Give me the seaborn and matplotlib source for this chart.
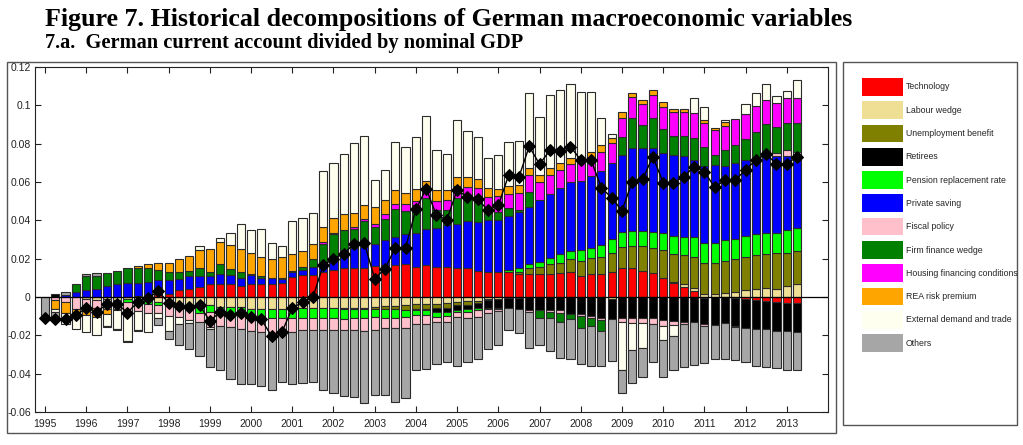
import numpy as np
import matplotlib
matplotlib.use("Agg")
import matplotlib.pyplot as plt
import seaborn as sns
from matplotlib.patches import Rectangle, Patch

# ---------------- data (1995Q1 .. 2013Q2) ----------------
years = [str(y) for y in range(1995, 2014)]

tech = [0, 0, 0, 0, 0, 0, 0, 0, 0, 0.0005, 0, 0.0017, 0.0017, 0.0035, 0.0043, 0.0052,
        0.0066, 0.0066, 0.0066, 0.0056, 0.0066, 0.0066, 0.0066, 0.0073, 0.0104, 0.0115,
        0.0115, 0.0132, 0.0141, 0.015, 0.015, 0.015, 0.016, 0.0165, 0.0165, 0.017, 0.0157,
        0.0165, 0.0158, 0.0158, 0.015, 0.0153, 0.0137, 0.0132, 0.0129, 0.0129, 0.0118,
        0.012, 0.012, 0.012, 0.0123, 0.0129, 0.0111, 0.0118, 0.0118, 0.0129, 0.0153, 0.015,
        0.0136, 0.0123, 0.0097, 0.0071, 0.0054, 0.0033, -0.0005, 0, 0, -0.0007, -0.0012,
        -0.0016, -0.0019, -0.0024, -0.003, -0.003]
labour = [0, 0, 0, 0, -0.0013, -0.0014, -0.001, -0.0015, -0.0012, -0.0015, -0.0015, -0.0026,
          -0.003, -0.005, -0.005, -0.0043, -0.0043, -0.0052, -0.0052, -0.0052, -0.006, -0.006,
          -0.006, -0.006, -0.0052, -0.0059, -0.0059, -0.0059, -0.0059, -0.0055, -0.0055,
          -0.0055, -0.005, -0.0048, -0.0048, -0.0043, -0.0038, -0.0035, -0.0038, -0.0033,
          -0.0024, -0.0021, -0.0019, -0.0012, -0.001, -0.0007, -0.0007, 0, 0, 0, 0, 0, 0, 0,
          0, -0.001, 0, 0, 0, 0, 0, 0.0009, 0.0012, 0.0012, 0.0017, 0.0017, 0.0021, 0.0026,
          0.0035, 0.004, 0.0045, 0.004, 0.0057, 0.0066]
unemp = [0] * 29 + [-0.0009, -0.0009, -0.0009, -0.001, -0.0017, -0.0017, -0.0023, -0.0023,
         -0.0026, -0.0021, -0.0023, -0.0017, -0.0021, -0.0014, -0.0005, 0, 0, 0.0014, 0.003,
         0.0038, 0.005, 0.0052, 0.0068, 0.0077, 0.0083, 0.0092, 0.0099, 0.011, 0.0118, 0.0132,
         0.0134, 0.0148, 0.0144, 0.0153, 0.0165, 0.0163, 0.0163, 0.0165, 0.017, 0.0174,
         0.0179, 0.0177, 0.0191, 0.0174, 0.0174]
retirees = [0, 0.0015] + [0] * 34 + [-0.0008, -0.0009, -0.0021, -0.0021, -0.0026, -0.0021,
            -0.0026, -0.004, -0.0045, -0.0052, -0.0056, -0.0068, -0.0068, -0.0068, -0.0068,
            -0.0089, -0.009, -0.0097, -0.0108, -0.0104, -0.0108, -0.0111, -0.0111, -0.0111,
            -0.012, -0.0125, -0.0129, -0.0129, -0.0137, -0.0146, -0.0134, -0.0144, -0.0151,
            -0.0153, -0.015, -0.0151, -0.0146, -0.0151]
pension = [0] * 8 + [-0.0012, -0.0015, -0.002, -0.0017, -0.0015, -0.001, -0.002, -0.004,
           -0.0035, -0.0026, -0.0035, -0.0026, -0.0035, -0.0052, -0.0052, -0.0052, -0.006,
           -0.0052, -0.0052, -0.0052, -0.0052, -0.005, -0.0047, -0.0047, -0.0045, -0.0043,
           -0.0042, -0.0038, -0.0025, -0.0022, -0.0023, -0.002, -0.0012, -0.0017, -0.0008,
           -0.0005, -0.0005, 0.0012, 0.0021, 0.0023, 0.0023, 0.0031, 0.0047, 0.0043, 0.0057,
           0.0056, 0.0061, 0.0075, 0.0078, 0.0077, 0.0077, 0.0083, 0.0087, 0.0096, 0.0092,
           0.0104, 0.0101, 0.0101, 0.011, 0.0108, 0.011, 0.0111, 0.0113, 0.0104, 0.0117, 0.0122]
private = [0, 0, 0.001, 0.0025, 0.0035, 0.0043, 0.006, 0.0068, 0.0073, 0.007, 0.0078, 0.0073,
           0.007, 0.006, 0.0064, 0.0056, 0.0042, 0.0056, 0.0047, 0.0045, 0.0047, 0.0035,
           0.0035, 0.0023, 0.0026, 0.0026, 0.0043, 0.0043, 0.0052, 0.0096, 0.0104, 0.0113,
           0.0118, 0.0134, 0.0148, 0.016, 0.0177, 0.0191, 0.02, 0.0217, 0.023, 0.0243, 0.0256,
           0.027, 0.0273, 0.0283, 0.0289, 0.0299, 0.0325, 0.0339, 0.0348, 0.0362, 0.036,
           0.0376, 0.0386, 0.0395, 0.04, 0.0435, 0.0435, 0.0435, 0.0417, 0.0421, 0.0426, 0.04,
           0.04, 0.0409, 0.039, 0.0397, 0.0395, 0.04, 0.04, 0.04, 0.0388, 0.0374]
fiscal = [0, -0.0015, -0.0025, -0.006, -0.0038, -0.0042, -0.005, -0.0045, -0.006, -0.0045,
          -0.005, -0.0043, -0.0055, -0.0045, -0.005, -0.0047, -0.0078, -0.0072, -0.007,
          -0.0087, -0.0082, -0.007, -0.0083, -0.0061, -0.007, -0.0061, -0.0061, -0.0061,
          -0.0061, -0.0058, -0.006, -0.0068, -0.0065, -0.0056, -0.0057, -0.0056, -0.0047,
          -0.0047, -0.003, -0.0031, -0.0026, -0.0031, -0.0035, -0.002, -0.0015, 0, 0, -0.0012,
          0, -0.0012, -0.0017, 0, -0.0007, -0.0014, -0.0012, 0, -0.0024, -0.0026, -0.0026,
          -0.0031, -0.003, -0.0021, -0.0014, 0, -0.0009, 0, 0, 0, 0, 0, 0, 0.0017, 0.003, 0.0023]
firm = [0, 0, 0, 0.0045, 0.0072, 0.0065, 0.0064, 0.0066, 0.0078, 0.0075, 0.0075, 0.0049,
        0.0043, 0.0038, 0.0031, 0.0045, 0.0023, 0.0049, 0.0035, 0.003, 0.0009, 0.0008, 0,
        0.0005, 0.0005, 0.0014, 0.0038, 0.0101, 0.0134, 0.0104, 0.0099, 0.0136, 0.0087,
        0.0106, 0.0144, 0.0118, 0.0148, 0.0162, 0.0096, 0.0078, 0.0136, 0.0136, 0.0136,
        0.0052, 0.0043, 0.0038, 0.0012, 0.0075, -0.004, -0.0031, -0.0047, -0.0026, -0.0066,
        -0.0038, -0.0057, 0, 0.0096, 0.0153, 0.0115, 0.016, 0.013, 0.0101, 0.0104, 0.0113,
        0.0101, 0.0052, 0.0083, 0.0094, 0.011, 0.0132, 0.0169, 0.0134, 0.0144, 0.0151]
housing = [0] * 27 + [0.0012, 0.0005, 0, 0.0014, 0.001, 0.0017, 0.0026, 0.0026, 0.0035, 0.002,
           0.0052, 0.0047, 0.0052, 0.0061, 0.0043, 0.0042, 0.0066, 0.0083, 0.0078, 0.0087,
           0.009, 0.0096, 0.0096, 0.0092, 0.009, 0.0097, 0.0099, 0.0101, 0.0104, 0.0099,
           0.0113, 0.0111, 0.0118, 0.011, 0.0125, 0.0125, 0.0134, 0.0125, 0.0127, 0.0125,
           0.0132, 0.013, 0.0134, 0.0122, 0.0127, 0.013, 0.013]
rea = [0, -0.0045, -0.006, -0.0045, -0.0043, -0.0048, -0.003, -0.001, 0, 0.0012, 0.0017,
       0.0038, 0.0047, 0.0067, 0.0078, 0.0094, 0.0117, 0.0116, 0.0122, 0.0122, 0.0108, 0.01,
       0.0099, 0.0108, 0.0091, 0.0087, 0.0083, 0.0078, 0.0078, 0.0083, 0.0073, 0.007, 0.0087,
       0.0077, 0.0073, 0.0059, 0.0061, 0.0035, 0.0057, 0.0052, 0.0049, 0.0049, 0.0045,
       0.0047, 0.0038, 0.004, 0.0043, 0.0035, 0.0035, 0.0035, 0.0035, 0.0031, 0, 0.0023,
       0.0035, 0.003, 0.0028, 0.0017, 0.0023, 0.0026, 0.0026, 0.0014, 0.0014, 0, 0.0017,
       0.0012, 0.0017, 0, 0, 0, 0, 0, 0, 0]
external = [0, -0.002, -0.0057, -0.006, -0.0087, -0.0096, -0.006, -0.0095, -0.0145, -0.0095,
            -0.0095, -0.0026, -0.0075, -0.0035, -0.0015, 0.0017, -0.0009, 0.0023, 0.0066,
            0.013, 0.0122, 0.0148, 0.0082, 0.0056, 0.017, 0.0169, 0.016, 0.029, 0.0287, 0.0311,
            0.0362, 0.036, 0.0139, 0.0157, 0.0252, 0.024, 0.0273, 0.0339, 0.0209, 0.0191,
            0.0299, 0.0242, 0.0217, 0.0157, 0.0174, 0.023, 0.023, 0.0391, 0.0304, 0.0383,
            0.0383, 0.0386, 0.0365, 0.0317, 0.0143, 0.0017, -0.0249, -0.0139, -0.013, 0,
            -0.0075, -0.0056, 0, 0.0075, 0.0066, 0, 0.001, -0.0005, 0.0052, 0.007, 0.0083,
            0.0035, 0.0035, 0.009]
others = [-0.0115, -0.004, 0.0015, 0, 0.0013, 0.0019, -0.0008, -0.0005, -0.0006, -0.0009, 0,
          -0.0035, -0.0042, -0.0112, -0.0135, -0.018, -0.02, -0.023, -0.0269, -0.0287,
          -0.0275, -0.028, -0.0288, -0.027, -0.027, -0.0278, -0.027, -0.0313, -0.0327,
          -0.0344, -0.0349, -0.0376, -0.034, -0.0345, -0.0384, -0.0365, -0.0239, -0.0235,
          -0.0214, -0.021, -0.0255, -0.0228, -0.0222, -0.0187, -0.0175, -0.0113, -0.0127,
          -0.0188, -0.0145, -0.017, -0.0184, -0.0209, -0.0188, -0.0209, -0.0181, -0.0219,
          -0.0119, -0.0174, -0.0148, -0.0195, -0.0191, -0.0179, -0.022, -0.0226, -0.0191,
          -0.0179, -0.0191, -0.0174, -0.0174, -0.0191, -0.0198, -0.0197, -0.0205, -0.02]
current_account = [-0.011, -0.0117, -0.0117, -0.0096, -0.0057, -0.0078, -0.0038, -0.0035,
                   -0.0082, -0.0026, -0.0005, 0.003, -0.0031, -0.0049, -0.0052, -0.0043,
                   -0.0125, -0.0078, -0.0096, -0.0082, -0.0104, -0.0117, -0.0205, -0.0183,
                   -0.0058, -0.0027, -0.0002, 0.0165, 0.02, 0.0226, 0.0278, 0.028, 0.0096,
                   0.0148, 0.0257, 0.0257, 0.0457, 0.0565, 0.0426, 0.0403, 0.0557, 0.0522,
                   0.0509, 0.0453, 0.0478, 0.0635, 0.0626, 0.0786, 0.0693, 0.0765, 0.0762,
                   0.0784, 0.0715, 0.0715, 0.057, 0.0518, 0.045, 0.0602, 0.0614, 0.0732,
                   0.0597, 0.0597, 0.0628, 0.068, 0.0654, 0.0572, 0.0611, 0.0611, 0.0663,
                   0.0715, 0.0745, 0.0694, 0.0694, 0.0732]

names = ["Technology", "Labour wedge", "Unemployment benefit", "Retirees",
         "Pension replacement rate", "Private saving", "Fiscal policy", "Firm finance wedge",
         "Housing financing conditions", "REA risk premium", "External demand and trade",
         "Others"]
colors = ["#FF0000", "#EEDF95", "#808000", "#000000", "#00FF00", "#0000FF", "#FFC0CB",
          "#008000", "#FF00FF", "#FFA500", "#FFFFF0", "#A6A6A6"]
series = [tech, labour, unemp, retirees, pension, private, fiscal, firm, housing, rea,
          external, others]

# ---------------- style ----------------
sns.set_theme(style="white")
plt.rcParams['font.family'] = ['Liberation Sans', 'DejaVu Sans']

W, H = 1023, 445
fig = plt.figure(figsize=(W / 100, H / 100), dpi=100)
fig.patch.set_facecolor("white")

ax_l, ax_r, ax_t, ax_b = 35, 828, 67, 412
ax = fig.add_axes([ax_l / W, 1 - ax_b / H, (ax_r - ax_l) / W, (ax_b - ax_t) / H])
ax.set_facecolor("white")

n = len(tech)
x = np.arange(n)
pos_base = np.zeros(n)
neg_base = np.zeros(n)
for vals, c in zip(series, colors):
    v = np.asarray(vals, dtype=float)
    p = np.where(v > 0, v, 0.0)
    m = np.where(v < 0, v, 0.0)
    mp = p > 0
    mn = m < 0
    ax.bar(x[mp], p[mp], width=0.8, bottom=pos_base[mp], color=c,
           edgecolor="#2b2b2b", linewidth=0.8, zorder=2)
    ax.bar(x[mn], m[mn], width=0.8, bottom=neg_base[mn], color=c,
           edgecolor="#2b2b2b", linewidth=0.8, zorder=2)
    pos_base += p
    neg_base += m

ax.axhline(0, color="black", lw=0.9, zorder=3)
sns.lineplot(x=x, y=current_account, ax=ax, color="black", lw=1.0, marker="D",
             markersize=6, markeredgecolor="black", zorder=4)

ax.set_xlim(-0.97, 76)
ax.set_ylim(-0.06, 0.12)
ax.set_xticks(np.arange(0, n, 4))
ax.set_xticklabels(years)
ax.set_yticks(np.arange(-0.06, 0.121, 0.02))
ax.set_yticklabels(["-0.06", "-0.04", "-0.02", "0", "0.02", "0.04", "0.06", "0.08",
                    "0.1", "0.12"])
ax.tick_params(direction="in", length=4, width=0.8, colors="#222222", labelsize=7.5,
               top=True, bottom=True, left=True, right=True, pad=3)
ax.tick_params(axis="x", pad=5)
for s in ax.spines.values():
    s.set_color("#222222")
    s.set_linewidth(0.8)
ax.set_xlabel("")
ax.set_ylabel("")

# outer frame around the plot panel
fig.add_artist(Rectangle((7 / W, 1 - 433 / H), (836 - 7) / W, (433 - 62) / H,
                         transform=fig.transFigure, fill=False, ec="#555555", lw=1.0))
# legend frame
fig.add_artist(Rectangle((843 / W, 1 - 425 / H), (1017 - 843) / W, (425 - 62) / H,
                         transform=fig.transFigure, fill=False, ec="#555555", lw=1.0))

handles = [Patch(facecolor=c, edgecolor="none") for c in colors]
fs = 6.3
leg = fig.legend(handles, names, loc="upper left",
                 bbox_to_anchor=(862 / W, 1 - 78 / H), bbox_transform=fig.transFigure,
                 frameon=False, fontsize=fs, handlelength=4.64, handleheight=2.735,
                 handletextpad=0.35, labelspacing=0.64, borderpad=0, borderaxespad=0)

# titles
fig.text(45 / W, 1 - 26 / H,
         "Figure 7. Historical decompositions of German macroeconomic variables",
         family="Liberation Serif", weight="bold", fontsize=18.7, va="baseline",
         ha="left", color="black")
fig.text(45 / W, 1 - 48 / H, "7.a.  German current account divided by nominal GDP",
         family="Liberation Serif", weight="bold", fontsize=14.7, va="baseline",
         ha="left", color="black")

fig.savefig("out.png", dpi=100, facecolor="white")
